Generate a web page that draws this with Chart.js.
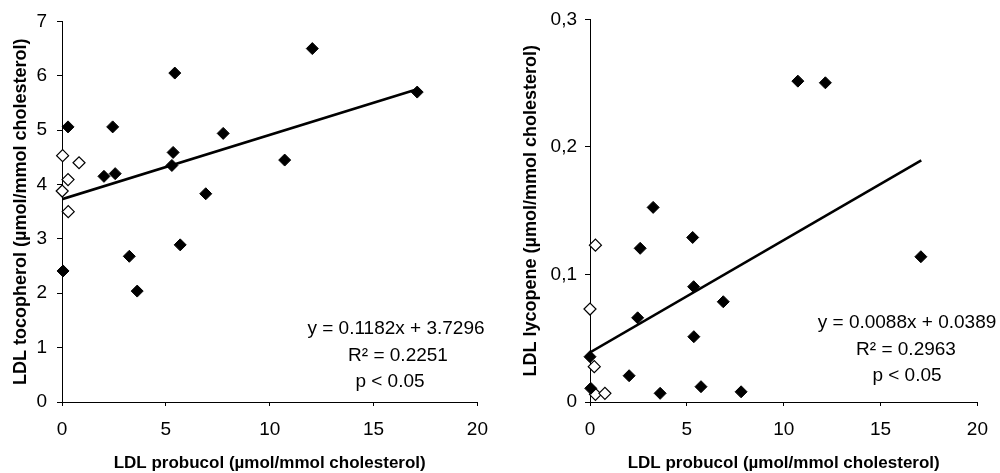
<!DOCTYPE html>
<html>
<head>
<meta charset="utf-8">
<script src="https://cdn.jsdelivr.net/npm/chart.js@4.4.1/dist/chart.umd.min.js"></script>
<style>
  html, body { margin: 0; padding: 0; background: #fff; }
  .wrap { display: flex; width: 1000px; height: 473px; }
  .wrap div { width: 500px; height: 473px; }
</style>
</head>
<body>
<div class="wrap">
  <div><canvas id="tocoChart" width="500" height="473"></canvas></div>
  <div><canvas id="lycoChart" width="500" height="473"></canvas></div>
</div>
<script>
// Left panel: LDL tocopherol vs LDL probucol
const tocoProbucolFilled = [0.05, 0.29, 2.02, 2.44, 2.56, 5.43, 5.35, 5.29, 6.92, 7.76, 3.24, 3.62, 5.69, 12.05, 17.1, 10.72];
const tocopherolFilled   = [2.41, 5.06, 4.15, 5.06, 4.2, 6.05, 4.59, 4.35, 3.83, 4.94, 2.68, 2.04, 2.89, 6.5, 5.7, 4.45];
const tocoProbucolOpen = [0.03, 0.82, 0.29, 0.01, 0.3];
const tocopherolOpen   = [4.53, 4.4, 4.09, 3.88, 3.5];
const tocoFit = { slope: 0.1182, intercept: 3.7296, xMin: 0, xMax: 17.1 };
const tocoText = ['y = 0.1182x + 3.7296', 'R\u00B2 = 0.2251', 'p < 0.05'];

// Right panel: LDL lycopene vs LDL probucol
const lycoProbucolFilled = [10.73, 12.15, 17.08, 7.8, 3.26, 5.3, 2.59, 5.35, 6.88, 2.46, 5.36, 0.0, 2.02, 0.04, 3.62, 5.73];
const lycopeneFilled     = [0.2516, 0.2503, 0.1139, 0.008, 0.1526, 0.129, 0.1205, 0.0904, 0.0786, 0.066, 0.0512, 0.0355, 0.0206, 0.0107, 0.0068, 0.012];
const lycoProbucolOpen = [0.28, 0.0, 0.22, 0.28, 0.77];
const lycopeneOpen     = [0.123, 0.0729, 0.0277, 0.006, 0.0068];
const lycoFit = { slope: 0.0088, intercept: 0.0389, xMin: 0, xMax: 17.1 };
const lycoText = ['y = 0.0088x + 0.0389', 'R\u00B2 = 0.2963', 'p < 0.05'];

const xTicks = [0, 5, 10, 15, 20];
const xTitle = 'LDL probucol (\u00B5mol/mmol cholesterol)';

Chart.defaults.font.family = '"Liberation Sans", Arial, sans-serif';
Chart.defaults.color = '#000';

const toPoints = (xs, ys) => xs.map((x, i) => ({ x: x, y: ys[i] }));
const fitLine = f => [
  { x: f.xMin, y: f.slope * f.xMin + f.intercept },
  { x: f.xMax, y: f.slope * f.xMax + f.intercept }
];

// draws the regression text block
const fitLabel = {
  id: 'fitLabel',
  afterDraw(chart, args, opts) {
    const ctx = chart.ctx;
    ctx.save();
    ctx.font = '19px "Liberation Sans", Arial, sans-serif';
    ctx.fillStyle = '#000';
    ctx.textAlign = 'center';
    ctx.textBaseline = 'middle';
    opts.lines.forEach((t, i) => ctx.fillText(t, opts.cx[i], opts.cy[i]));
    ctx.restore();
  }
};

function makeChart(id, cfg) {
  return new Chart(document.getElementById(id), {
    type: 'scatter',
    data: {
      datasets: [
        {
          data: toPoints(cfg.filledX, cfg.filledY),
          pointStyle: 'rectRot', radius: 6, hoverRadius: 6,
          backgroundColor: '#000', borderColor: '#000', borderWidth: 1, clip: false
        },
        {
          data: toPoints(cfg.openX, cfg.openY),
          pointStyle: 'rectRot', radius: 6, hoverRadius: 6,
          backgroundColor: '#fff', borderColor: '#000', borderWidth: 1.2, clip: false
        },
        {
          type: 'line',
          data: fitLine(cfg.fit),
          borderColor: '#000', borderWidth: 2.6, pointRadius: 0, fill: false
        }
      ]
    },
    options: {
      responsive: false,
      animation: false,
      layout: { padding: { top: 19, right: cfg.padRight, left: 0, bottom: 0 } },
      plugins: {
        legend: { display: false },
        tooltip: { enabled: false },
        fitLabel: { lines: cfg.text, cx: cfg.textX, cy: cfg.textY }
      },
      scales: {
        x: {
          type: 'linear', min: 0, max: 20,
          afterBuildTicks: s => { s.ticks = xTicks.map(v => ({ value: v })); },
          afterFit: s => { s.height = 71; },
          border: { display: true, color: '#000', width: 1 },
          grid: { display: true, drawOnChartArea: false, color: '#000', tickLength: 4 },
          ticks: { font: { size: 19 }, padding: 12, maxRotation: 0 },
          title: {
            display: true, text: xTitle,
            font: { size: 17, weight: 'bold', lineHeight: 1.15 },
            padding: { top: 0, bottom: 0 }
          }
        },
        y: {
          type: 'linear', min: cfg.yMin, max: cfg.yMax,
          afterBuildTicks: s => { s.ticks = cfg.yTicks.map(v => ({ value: v })); },
          afterFit: s => { s.width = cfg.yWidth; },
          border: { display: true, color: '#000', width: 1 },
          grid: { display: true, drawOnChartArea: false, color: '#000', tickLength: 5 },
          ticks: { font: { size: 19 }, padding: cfg.yPad, callback: cfg.yFormat },
          title: {
            display: true, text: cfg.yTitle,
            font: { size: 18, weight: 'bold', lineHeight: 1.2 },
            padding: { top: cfg.yTitlePad, bottom: 0 }
          }
        }
      }
    },
    plugins: [fitLabel]
  });
}

makeChart('tocoChart', {
  filledX: tocoProbucolFilled, filledY: tocopherolFilled,
  openX: tocoProbucolOpen, openY: tocopherolOpen,
  fit: tocoFit, text: tocoText,
  textX: [396, 398, 390], textY: [329, 356, 382],
  yMin: 0, yMax: 7, yTicks: [0, 1, 2, 3, 4, 5, 6, 7],
  yFormat: v => String(v),
  yTitle: 'LDL tocopherol (\u00B5mol/mmol cholesterol)',
  yWidth: 62, yPad: 10, yTitlePad: 10, padRight: 22
});

makeChart('lycoChart', {
  filledX: lycoProbucolFilled, filledY: lycopeneFilled,
  openX: lycoProbucolOpen, openY: lycopeneOpen,
  fit: lycoFit, text: lycoText,
  textX: [407, 406, 407], textY: [323, 350, 376],
  yMin: 0, yMax: 0.3, yTicks: [0, 0.1, 0.2, 0.3],
  yFormat: v => v === 0 ? '0' : (Math.round(v * 10) / 10).toFixed(1).replace('.', ','),
  yTitle: 'LDL lycopene (\u00B5mol/mmol cholesterol)',
  yWidth: 90, yPad: 8, yTitlePad: 20, padRight: 11
});
</script>
</body>
</html>
